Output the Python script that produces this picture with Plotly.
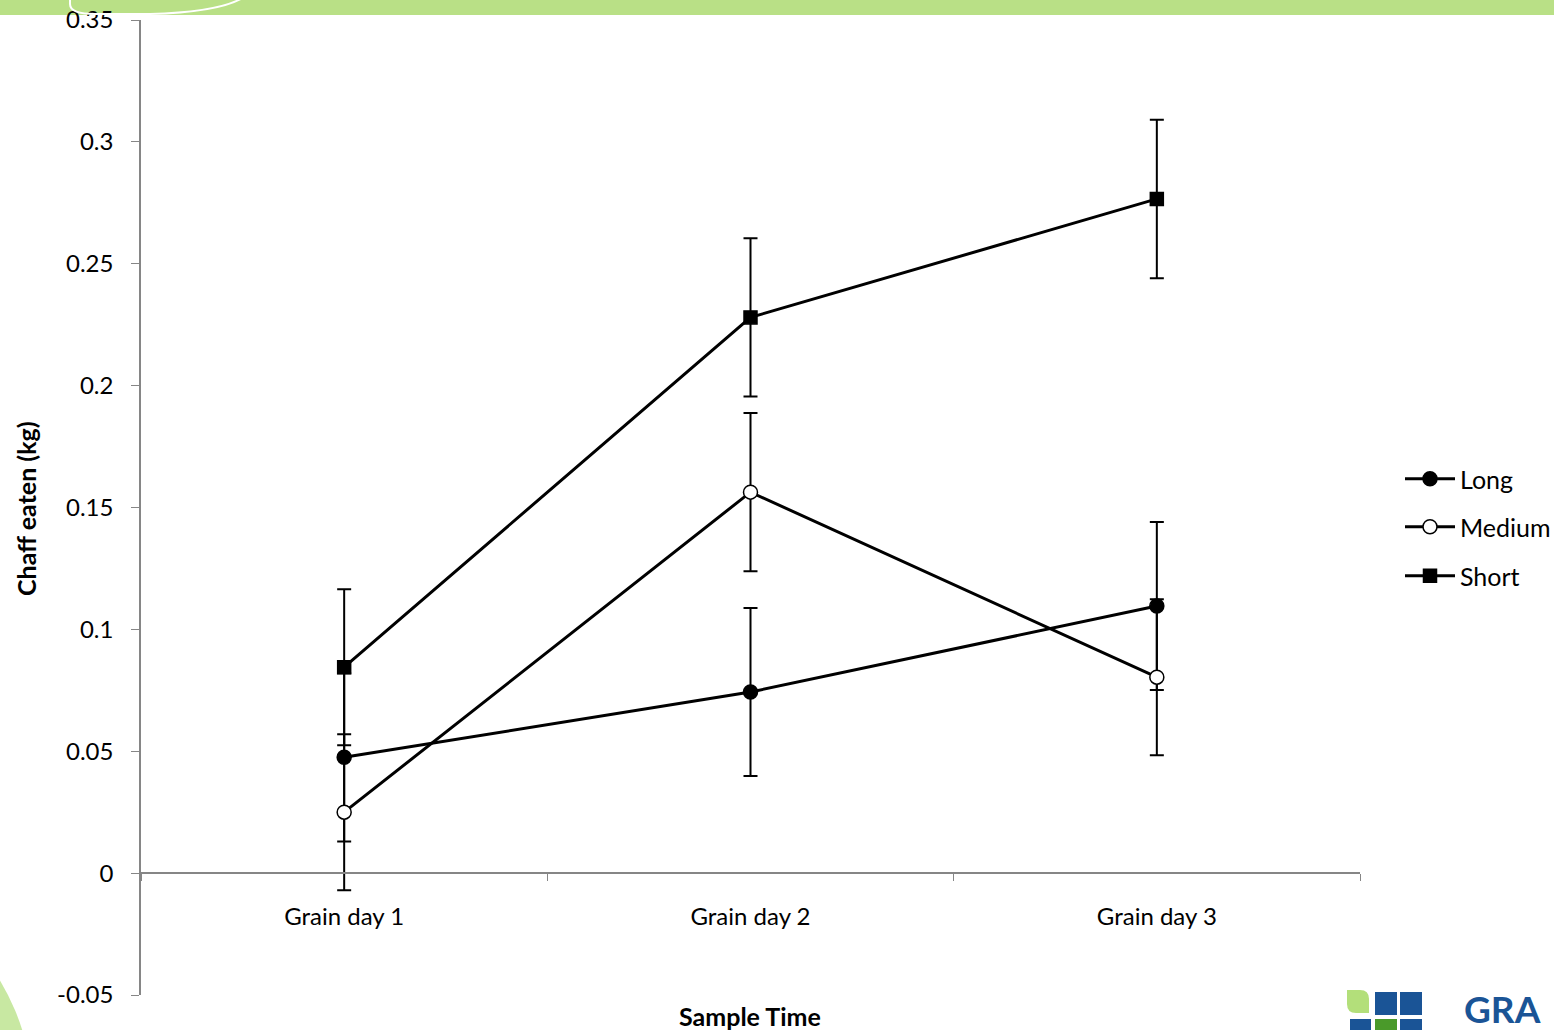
import plotly.graph_objects as go

categories = ["Grain day 1", "Grain day 2", "Grain day 3"]
long_vals = [0.0475, 0.0743, 0.1096]
long_err = [0.0345, 0.0345, 0.0345]
medium_vals = [0.025, 0.1563, 0.0804]
medium_err = [0.032, 0.0325, 0.032]
short_vals = [0.0845, 0.228, 0.2766]
short_err = [0.032, 0.0325, 0.0325]
ytick_vals = [-0.05, 0, 0.05, 0.1, 0.15, 0.2, 0.25, 0.3, 0.35]
ytick_text = ["-0.05", "0", "0.05", "0.1", "0.15", "0.2", "0.25", "0.3", "0.35"]

FONT = "Lato"
W, H = 1554, 1030
L, R, T, B = 141, 1360, 20, 995
PW, PH = R - L, B - T

def px(x):
    return (x - L) / PW

def py(y):
    return (B - y) / PH

fig = go.Figure()
series = [
    ("Long", long_vals, long_err, dict(symbol="circle", size=14, color="black",
                                        line=dict(color="black", width=1.5)), "legend"),
    ("Medium", medium_vals, medium_err, dict(symbol="circle", size=14, color="white",
                                             line=dict(color="black", width=1.5)), "legend2"),
    ("Short", short_vals, short_err, dict(symbol="square", size=13, color="black",
                                          line=dict(color="black", width=1.5)), "legend3"),
]
for name, vals, err, marker, leg in series:
    fig.add_trace(go.Scatter(
        x=categories, y=vals, name=name, mode="lines+markers",
        line=dict(color="black", width=3), marker=marker,
        error_y=dict(type="data", array=err, visible=True, color="black",
                     thickness=2, width=7),
        legend=leg, showlegend=True,
    ))

legend_common = dict(font=dict(family=FONT, size=25, color="black"),
                     bgcolor="rgba(0,0,0,0)", itemwidth=50,
                     xref="container", yref="container",
                     xanchor="left", yanchor="middle", x=1400 / W, visible=True)
fig.update_layout(
    width=W, height=H, showlegend=True,
    margin=dict(l=L, r=W - R, t=T, b=H - B, autoexpand=False),
    paper_bgcolor="white", plot_bgcolor="white",
    font=dict(family=FONT, size=24, color="black"),
    legend=dict(**legend_common, y=1 - 479 / H),
    legend2=dict(**legend_common, y=1 - 527 / H),
    legend3=dict(**legend_common, y=1 - 576 / H),
    xaxis=dict(type="category", range=[-0.5, 2.5], anchor="free",
               position=py(873), showline=True, linecolor="#868686",
               linewidth=1.5, ticks="outside", tickson="boundaries",
               ticklen=7, tickcolor="#868686", showgrid=False,
               ticklabelstandoff=22, automargin=False,
               tickfont=dict(family=FONT, size=24, color="black")),
    yaxis=dict(range=[-0.05, 0.35], tickvals=ytick_vals, ticktext=ytick_text,
               showline=True, linecolor="#868686", linewidth=1.5,
               ticks="outside", ticklen=8, tickcolor="#868686",
               showgrid=False, zeroline=False, ticklabelstandoff=13,
               automargin=False,
               tickfont=dict(family=FONT, size=24, color="black")),
)

fig.add_annotation(text="<b>Chaff eaten (kg)</b>", xref="paper", yref="paper",
                   x=px(26), y=py(508), xanchor="center", yanchor="middle",
                   textangle=-90, showarrow=False,
                   font=dict(family=FONT, size=25, color="black"))
fig.add_annotation(text="<b>Sample Time</b>", xref="paper", yref="paper",
                   x=px(750), y=py(1016), xanchor="center", yanchor="middle",
                   showarrow=False,
                   font=dict(family=FONT, size=25, color="black"))

# decorative slide elements
fig.add_shape(type="rect", xref="paper", yref="paper", layer="below",
              x0=px(0), x1=px(W), y0=py(15), y1=py(-5),
              fillcolor="#b9e086", line=dict(width=0))
fig.add_shape(type="path", xref="paper", yref="paper", layer="above",
              path=f"M {px(70)},{py(-5)} L {px(70)},{py(4)} Q {px(70)},{py(14)} {px(95)},{py(14)} "
                   f"L {px(150)},{py(14)} Q {px(225)},{py(12)} {px(247)},{py(-5)}",
              line=dict(color="white", width=2))
fig.add_shape(type="circle", xref="paper", yref="paper", layer="below",
              x0=px(-433), x1=px(33), y0=py(1333), y1=py(867),
              fillcolor="#c8e8a2", line=dict(width=0))
# logo
fig.add_shape(type="path", xref="paper", yref="paper",
              path=f"M {px(1347)},{py(990)} L {px(1360)},{py(990)} Q {px(1369)},{py(990)} {px(1369)},{py(999)} "
                   f"L {px(1369)},{py(1013)} L {px(1356)},{py(1013)} Q {px(1347)},{py(1013)} {px(1347)},{py(1004)} Z",
              fillcolor="#b3df7a", line=dict(width=0))
for x0, x1, y0, y1, c in [(1375, 1397, 992, 1015, "#1a5496"), (1400, 1422, 992, 1015, "#1a5496"),
                          (1350, 1371, 1019, 1040, "#1a5496"), (1375, 1397, 1019, 1040, "#4a9a2a"),
                          (1400, 1422, 1019, 1040, "#1a5496")]:
    fig.add_shape(type="rect", xref="paper", yref="paper", x0=px(x0), x1=px(x1),
                  y0=py(y1), y1=py(y0), fillcolor=c, line=dict(width=0))
fig.add_annotation(text="<b>GRA</b>", xref="paper", yref="paper",
                   x=px(1462), y=py(1009), xanchor="left", yanchor="middle",
                   showarrow=False, font=dict(family=FONT, size=37, color="#1a5496"))

fig.write_html(
    "out.html",
    config={"displayModeBar": False},
    post_script=("document.documentElement.style.margin='0';"
                 "document.body.style.margin='0';"
                 "document.body.style.overflow='hidden';"
                 "document.documentElement.style.overflow='hidden';"),
)
